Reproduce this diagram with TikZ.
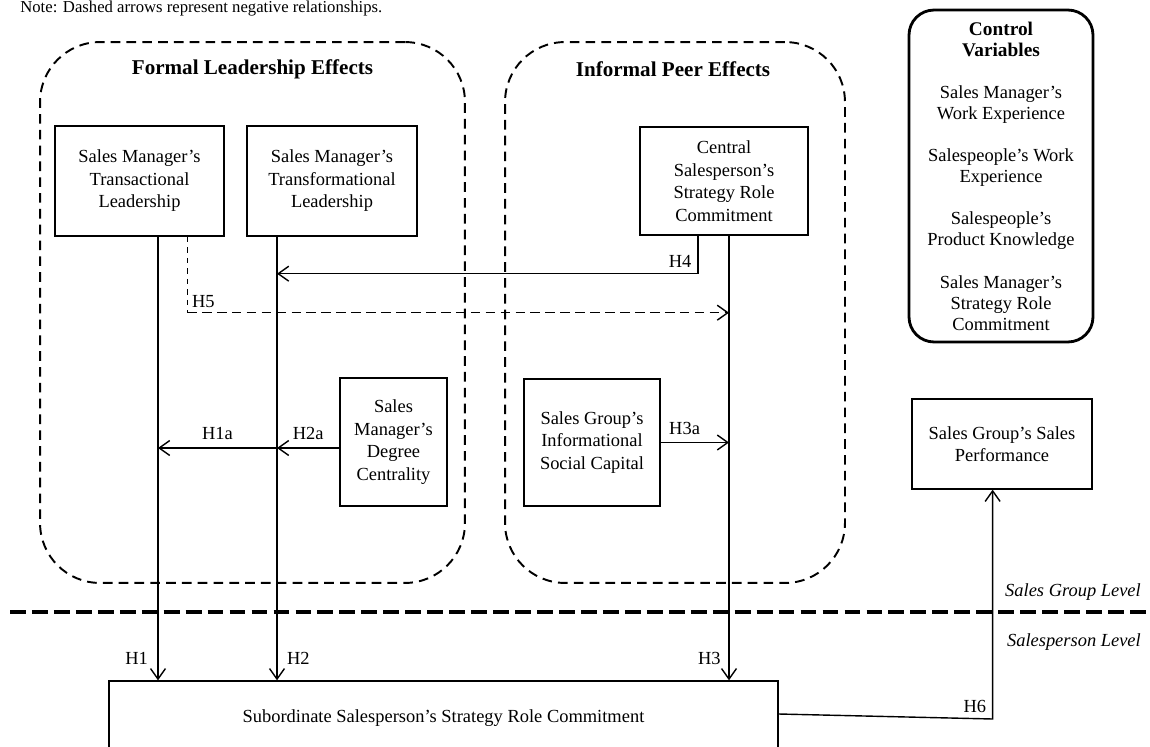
\documentclass[tikz,border=0pt]{standalone}
\usepackage{fontspec}
\setmainfont{Liberation Serif}
\usetikzlibrary{arrows.meta}

\begin{document}
\begin{tikzpicture}[x=0.02cm, y=-0.02cm, >={Straight Barb[length=6pt,width=8.5pt]}]
    \useasboundingbox (0,0) rectangle (1150,747);
    \clip (0,0) rectangle (1150,747);

    \node [anchor=base west, inner sep=0, font=\fontsize{9.5}{11}\selectfont] (note) at (20,12) {Note: Dashed arrows represent negative relationships.};

    % dashed groups
    \begin{scope}[every node/.style={draw, line width=1.1pt, dash pattern=on 5.5pt off 3.5pt, rounded corners=1.2cm, inner sep=0}]
        \node [minimum width=8.5cm, minimum height=10.82cm] (formal) at (252.5,312.5) {};
        \node [minimum width=6.8cm, minimum height=10.82cm] (informal) at (675,312.5) {};
    \end{scope}
    \begin{scope}[every node/.style={font=\fontsize{12}{14}\selectfont\bfseries}]
        \node (formaltitle) at (252.5,69) {Formal Leadership Effects};
        \node (informaltitle) at (673,69) {Informal Peer Effects};
    \end{scope}

    % boxes
    \begin{scope}[every node/.style={draw, line width=0.8pt, align=center, inner sep=2pt, font=\fontsize{10.5}{12.8}\selectfont}]
        \node [minimum width=3.38cm, minimum height=2.2cm] (trans) at (139.5,181) {Sales Manager's\\Transactional\\Leadership};
        \node [minimum width=3.4cm, minimum height=2.2cm] (transf) at (332,181) {Sales Manager's\\Transformational\\Leadership};
        \node [minimum width=3.36cm, minimum height=2.16cm] (central) at (724,181) {Central\\Salesperson's\\Strategy Role\\Commitment};
        \node [minimum width=2.14cm, minimum height=2.56cm] (degree) at (393.5,442) {Sales\\Manager's\\Degree\\Centrality};
        \node [minimum width=2.72cm, minimum height=2.54cm] (infocap) at (592,442.5) {Sales Group's\\Informational\\Social Capital};
        \node [minimum width=3.6cm, minimum height=1.8cm] (perf) at (1002,444) {Sales Group's Sales\\Performance};
        \node [minimum width=13.38cm, minimum height=1.48cm] (subord) at (443.5,718) {Subordinate Salesperson's Strategy Role Commitment};
        \node [line width=1.6pt, rounded corners=0.5cm, minimum width=3.68cm, minimum height=6.64cm, font=\fontsize{10.5}{12}\selectfont] (controls) at (1001,176)
            {\textbf{\fontsize{11}{13}\selectfont Control}\\\textbf{\fontsize{11}{13}\selectfont Variables}\\[12pt]
             Sales Manager's\\Work Experience\\[12pt]
             Salespeople's Work\\Experience\\[12pt]
             Salespeople's\\Product Knowledge\\[12pt]
             Sales Manager's\\Strategy Role\\Commitment};
    \end{scope}

    % levels
    \coordinate (lvlL) at (10,612);
    \coordinate (lvlR) at (1150,612);
    \draw [line width=2.4pt, dash pattern=on 9pt off 3.5pt] (lvlL) -- (lvlR);
    \node [anchor=east, font=\fontsize{10.5}{12}\selectfont\itshape] (grouplvl) at (1147,592) {Sales Group Level};
    \node [anchor=east, font=\fontsize{10.5}{12}\selectfont\itshape] (personlvl) at (1147,642) {Salesperson Level};

    % hypotheses
    \begin{scope}[every path/.style={line width=0.8pt}, every node/.style={font=\fontsize{10.5}{12}\selectfont}]
        \path (trans.south) ++(18.5,0) coordinate (h1s);
        \path (transf.south) ++(-55,0) coordinate (h2s);
        \path (central.south) ++(5,0) coordinate (h3s);
        \path (central.south) ++(-26,0) coordinate (h4s);
        \path (trans.south) ++(47.5,0) coordinate (h5s);
        \path (degree.west) ++(0,6) coordinate (h2a);
        \path (subord.east) ++(0,-4) coordinate (h6s);

        \draw [->] (h1s) -- (h1s |- subord.north) node [pos=0.95, left=2pt] {H1};
        \draw [->] (h2s) -- (h2s |- subord.north) node [pos=0.95, right=2pt] {H2};
        \draw [->] (h3s) -- (h3s |- subord.north) node [pos=0.95, left=1pt] {H3};

        \draw [->] (h4s) -- ++(0,38) coordinate (h4c) -- (h4c -| h2s);
        \node [anchor=south east] (h4lbl) at (h4c) {H4};

        \draw [line width=0.4pt, dashed] (h5s) -- ++(0,76) coordinate (h5c);
        \draw [->, dash pattern=on 5.5pt off 3pt] (h5c) -- (h5c -| h3s);
        \node [anchor=south west, inner sep=2.5pt] (h5lbl) at (h5c) {H5};

        \draw [->] (h2a) -- (h2a -| h2s) node [midway, above=1pt] {H2a};
        \draw [->] (h2a -| h2s) -- (h2a -| h1s) node [midway, above=1pt] {H1a};
        \draw [->] (infocap.east) -- (infocap.east -| h3s) node [pos=0.35, above=1pt] {H3a};

        \draw [->] (h6s) -- ++(214,5) coordinate (h6c) -- (h6c |- perf.south);
        \node [anchor=south east] (h6lbl) at (h6c) {H6};
    \end{scope}
\end{tikzpicture}
\end{document}
